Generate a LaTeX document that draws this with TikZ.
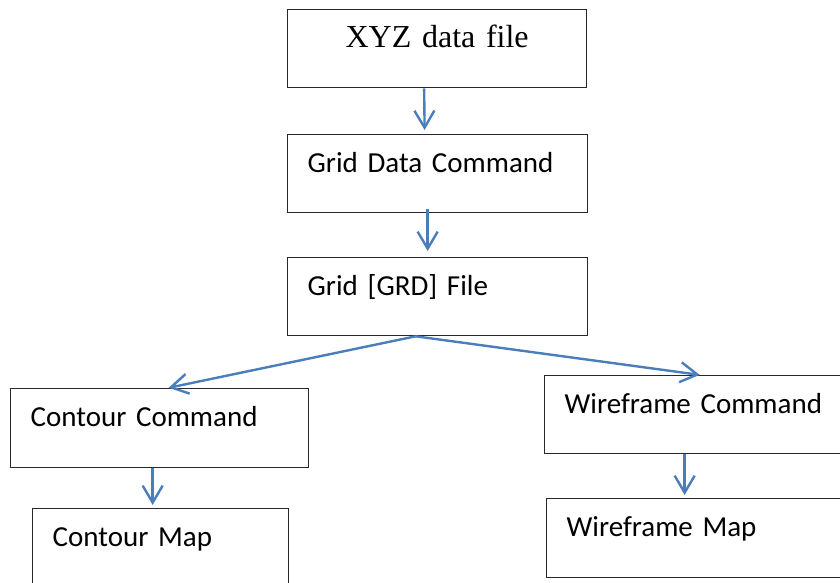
\documentclass[tikz,border=0pt]{standalone}
\usepackage{fontspec}
\newfontfamily\calibrifont{Carlito}
\newfontfamily\timesfont{Liberation Serif}
\usepackage{tikz}
\usetikzlibrary{arrows.meta,positioning}
\definecolor{flowblue}{RGB}{74,126,187}
\definecolor{boxline}{RGB}{40,40,40}

\begin{document}
\begin{tikzpicture}[x=1pt,y=1pt,
                    box node/.style={draw=boxline,line width=1.3pt,anchor=north west,
                      inner xsep=20pt,inner ysep=0pt,text height=38pt,text depth=40pt,
                      align=left,font=\calibrifont\fontsize{29}{34}\selectfont},
                    flow/.style={->,>={Straight Barb[length=17pt,width=20pt]},
                      draw=flowblue,line width=2.4pt}]
  \useasboundingbox (0,0) rectangle (840,-583);
  \clip (0,0) rectangle (840,-583);

  \node[box node,text width=259pt,align=center,font=\timesfont\fontsize{32}{38}\selectfont]
    (xyz) at (287,-9) {XYZ data file};
  \node[box node,text width=260pt] (gridcmd) [below=45.7pt of xyz.south west,anchor=north west] {Grid Data Command};
  \node[box node,text width=260pt] (grd) [below=43.7pt of gridcmd.south west,anchor=north west] {Grid [GRD] File};
  \node[box node,text width=258pt,text depth=41pt] (contourcmd) at (10,-388) {Contour Command};
  \node[box node,text width=216pt] (contourmap) [below right=39.7pt and 22pt of contourcmd.south west,anchor=north west] {Contour Map};
  \node[box node,text width=260pt] (wirecmd) at (544,-375) {Wireframe Command};
  \node[box node,text width=260pt,text depth=41pt] (wiremap) [below right=43.7pt and 2pt of wirecmd.south west,anchor=north west] {Wireframe Map};

  \draw[flow,shorten >=4pt] ([xshift=-13pt]xyz.south) -- ([xshift=-13pt]gridcmd.north);
  \draw[flow,shorten >=6pt,shorten <=-4pt] ([xshift=-10pt]gridcmd.south) -- ([xshift=-10pt]grd.north);
  \draw[flow,shorten >=1pt] ([xshift=-22pt]grd.south) -- ([xshift=8pt]contourcmd.north);
  \draw[flow,shorten >=1pt] ([xshift=-22pt]grd.south) -- ([xshift=6pt]wirecmd.north);
  \draw[flow,shorten >=3pt] ([xshift=-7pt]contourcmd.south) -- ([xshift=-8pt]contourmap.north);
  \draw[flow,shorten >=3pt] ([xshift=-10pt]wirecmd.south) -- ([xshift=-12pt]wiremap.north);
\end{tikzpicture}
\end{document}
